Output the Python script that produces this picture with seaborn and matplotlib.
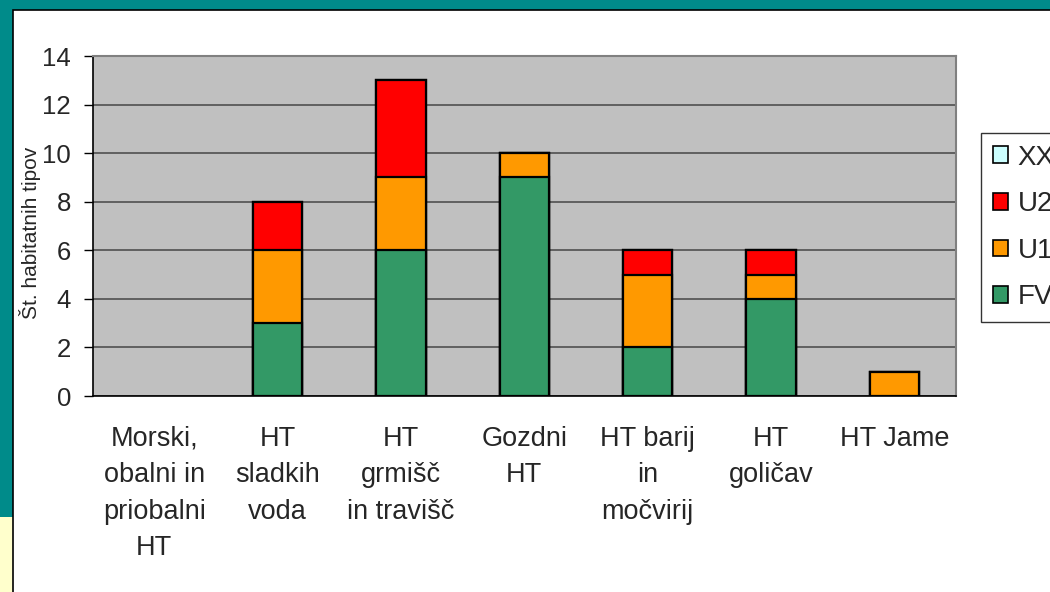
import matplotlib
matplotlib.use("Agg")
import matplotlib.pyplot as plt
import seaborn as sns
import numpy as np
import pandas as pd
from matplotlib.patches import Rectangle, Patch

categories = ["Morski,\nobalni in\npriobalni\nHT", "HT\nsladkih\nvoda", "HT\ngrmišč\nin travišč",
              "Gozdni\nHT", "HT barij\nin\nmočvirij", "HT\ngoličav", "HT Jame"]
fv = [0, 3, 6, 9, 2, 4, 0]
u1 = [0, 3, 3, 1, 3, 1, 1]
u2 = [0, 2, 4, 0, 1, 1, 0]
xx = [0, 0, 0, 0, 0, 0, 0]
series_names = ["XX", "U2", "U1", "FV"]
colors = {"FV": "#339966", "U1": "#FF9900", "U2": "#FF0000", "XX": "#CCFFFF"}
y_ticks = [0, 2, 4, 6, 8, 10, 12, 14]
y_label = "Št. habitatnih tipov"

sns.set_theme(style="white")
plt.rcParams["font.family"] = ["Liberation Sans", "DejaVu Sans"]

fig = plt.figure(figsize=(10.5, 5.92), dpi=100)
fig.patch.set_facecolor("white")

# slide frame decoration
fig.patches.append(Rectangle((0, 0), 1, 1, transform=fig.transFigure, facecolor="#008B8A",
                             edgecolor="none", zorder=-10))
fig.patches.append(Rectangle((0, 0), 13/1050, 75/592, transform=fig.transFigure, facecolor="#FFFFCC",
                             edgecolor="none", zorder=-9))
fig.patches.append(Rectangle((13/1050, -0.1), 1.2, 1 - 10/592 + 0.1, transform=fig.transFigure,
                             facecolor="white", edgecolor="black", linewidth=1.2, zorder=-8))

ax = fig.add_axes([92.5/1050, 1 - 396/592, (956 - 92.5)/1050, (396 - 56)/592])
ax.set_facecolor("#C0C0C0")

df = pd.DataFrame({"cat": categories, "FV": fv, "U1": u1, "U2": u2, "XX": xx})
df["c_FV"] = df["FV"]
df["c_U1"] = df["c_FV"] + df["U1"]
df["c_U2"] = df["c_U1"] + df["U2"]
df["c_XX"] = df["c_U2"] + df["XX"]

for name in ["XX", "U2", "U1", "FV"]:
    vals = df["c_" + name]
    sub = df[vals > 0]
    if sub.empty:
        continue
    sns.barplot(data=sub, x="cat", y="c_" + name, order=categories, color=colors[name],
                saturation=1, width=0.4, edgecolor="black", linewidth=1.6, ax=ax, zorder=3)

ax.set_xlim(-0.5, 6.5)
ax.set_ylim(0, 14)
ax.set_yticks(y_ticks)
ax.set_yticklabels([str(v) for v in y_ticks], fontsize=18.5)
ax.yaxis.grid(True, color="#505050", linewidth=1.2, zorder=0)
ax.set_axisbelow(True)

ax.set_xticks(range(len(categories)))
ax.set_xticklabels(categories, fontsize=19.5, linespacing=1.52, va="top")
ax.tick_params(axis="x", which="major", length=0, pad=21.5)
ax.set_xticks(np.arange(-0.5, 7.0, 1.0), minor=True)
ax.tick_params(axis="x", which="minor", length=6, width=1, color="black", direction="out")
ax.tick_params(axis="y", length=6.5, width=1, color="black", direction="out", left=True, pad=9)
ax.set_xlabel("")
ax.set_ylabel(y_label, fontsize=15)
ax.yaxis.set_label_coords(-0.060, 0.48)

for side in ["left", "bottom"]:
    ax.spines[side].set_color("black")
    ax.spines[side].set_linewidth(1.2)
for side in ["top", "right"]:
    ax.spines[side].set_color("#808080")
    ax.spines[side].set_linewidth(1.5)

handles = [Patch(facecolor=colors[n], edgecolor="black", linewidth=1.2) for n in series_names]
leg = fig.legend(handles, series_names, loc="upper left", bbox_to_anchor=(981/1050, 1 - 133/592),
                 fontsize=20, frameon=True, fancybox=False, edgecolor="black",
                 handlelength=0.55, handleheight=0.55, handletextpad=0.35, labelspacing=0.74,
                 borderpad=0.42, borderaxespad=0)
leg.get_frame().set_linewidth(1)

fig.savefig("out.png", dpi=100)
